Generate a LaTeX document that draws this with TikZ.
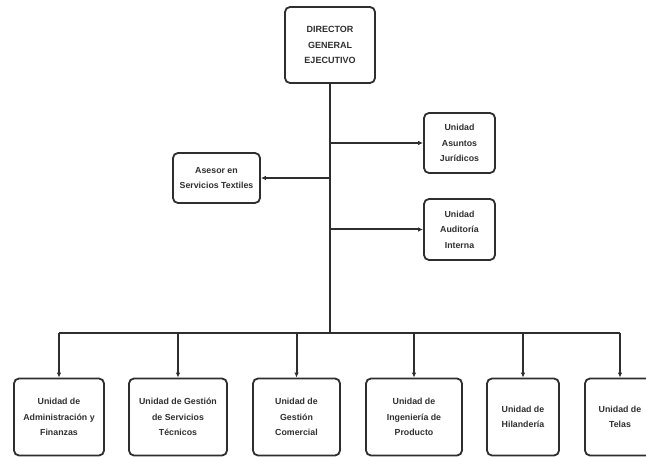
\documentclass[tikz,border=0pt]{standalone}
\usepackage{fontspec}
\setmainfont{Liberation Sans}
\usetikzlibrary{arrows.meta}
\definecolor{ink}{HTML}{2E2E2E}
\definecolor{txt}{HTML}{303030}
\tikzset{
  orgbox/.style={draw=ink, line width=1.8pt, rounded corners=5pt, fill=white, align=center, inner sep=1pt,
    text=txt, font=\fontsize{8.8}{15.5}\selectfont\bfseries},
  dirbox/.style={orgbox, font=\fontsize{9}{15.6}\selectfont\bfseries},
  link/.style={draw=ink, line width=2pt},
  arr/.style={link, -{Latex[length=5pt,width=4.5pt]}}
}
\begin{document}
\begin{tikzpicture}[x=1pt,y=-1pt]
\useasboundingbox (0,0) rectangle (646,457);
\clip (0,0) rectangle (646,457);
\fill[white] (0,0) rectangle (646,457);
\node[dirbox, minimum width=90pt, minimum height=76pt] (dir) at (330,45) {DIRECTOR\\GENERAL\\EJECUTIVO};
\node[orgbox, minimum width=71pt, minimum height=60pt] (jur) at (459.5,143) {Unidad\\Asuntos\\Jurídicos};
\node[orgbox, minimum width=71pt, minimum height=61pt] (aud) at (459.5,229.5) {Unidad\\Auditoría\\Interna};
\node[orgbox, minimum width=87pt, minimum height=50pt] (ase) at (216.5,178) {Asesor en\\Servicios Textiles};
\node[orgbox, minimum width=90pt, minimum height=77pt] (b1) at (59,417) {Unidad de\\Administración y\\Finanzas};
\node[orgbox, minimum width=98pt, minimum height=77pt] (b2) at (178,417) {Unidad de Gestión\\de Servicios\\Técnicos};
\node[orgbox, minimum width=87pt, minimum height=77pt] (b3) at (296.5,417) {Unidad de\\Gestión\\Comercial};
\node[orgbox, minimum width=96pt, minimum height=77pt] (b4) at (414,417) {Unidad de\\Ingeniería de\\Producto};
\node[orgbox, minimum width=72pt, minimum height=77pt] (b5) at (523,417) {Unidad de\\Hilandería};
\node[orgbox, minimum width=70pt, minimum height=77pt] (b6) at (620,417) {Unidad de\\Telas};
\coordinate (bus) at (330,333);
\draw[link] (dir.south) -- (bus);
\draw[arr] (dir.south |- jur.west) -- (jur.west);
\draw[arr] (dir.south |- aud.west) -- (aud.west);
\draw[arr] (dir.south |- ase.east) -- (ase.east);
\draw[link] (b1.north |- bus) -- (b6.north |- bus);
\foreach \b in {b1,b2,b3,b4,b5,b6}{\draw[arr] (\b.north |- bus) -- (\b.north);}
\end{tikzpicture}
\end{document}
